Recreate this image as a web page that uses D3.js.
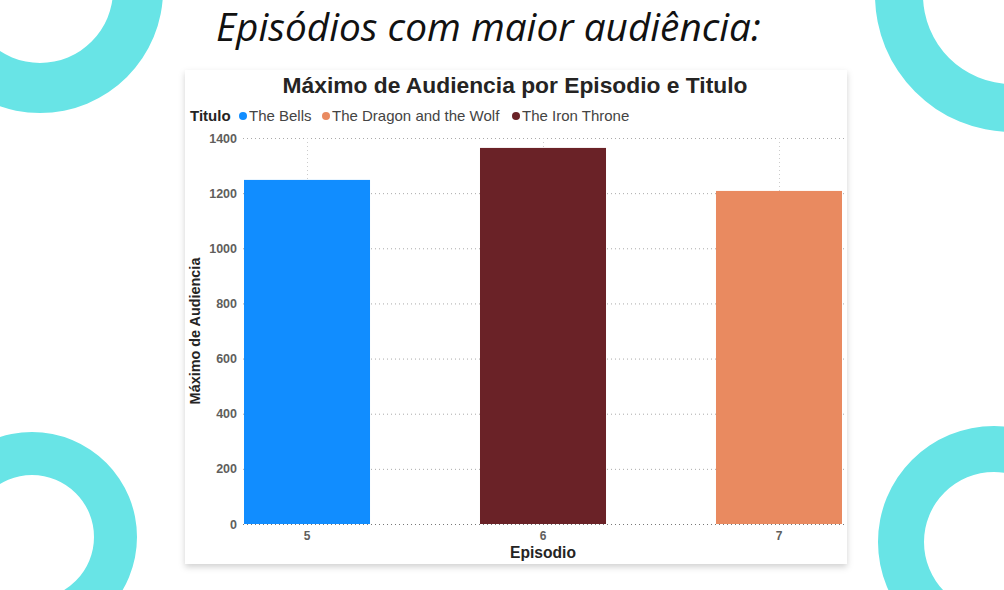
<!DOCTYPE html>
<html>
<head>
<meta charset="utf-8">
<script src="https://cdn.jsdelivr.net/npm/d3@7"></script>
<style>
  html, body { margin: 0; padding: 0; background: #fff; }
  svg { display: block; }
</style>
</head>
<body>
<svg id="chart" width="1004" height="590"></svg>
<script>
// ---- Data ----
const episodes = ["5", "6", "7"];
const titles = ["The Bells", "The Iron Throne", "The Dragon and the Wolf"];
const audience = [1248, 1364, 1208];
const legendTitles = ["The Bells", "The Dragon and the Wolf", "The Iron Throne"];
const yTicks = [0, 200, 400, 600, 800, 1000, 1200, 1400];
const colorMap = { "The Bells": "#118DFF", "The Dragon and the Wolf": "#E98A60", "The Iron Throne": "#6A2227" };

const svg = d3.select("#chart");

// ---- decorative rings ----
const ringColor = "#68E4E6";
const rings = [
  { cx: 40, cy: -10, R: 123, r: 73 },
  { cx: 1012, cy: -5, R: 137, r: 89 },
  { cx: 32, cy: 537, R: 105, r: 62 },
  { cx: 994, cy: 542, R: 116, r: 70 }
];
const arcGen = d3.arc();
rings.forEach(g => {
  svg.append("path")
    .attr("transform", `translate(${g.cx},${g.cy})`)
    .attr("d", arcGen({ innerRadius: g.r, outerRadius: g.R, startAngle: 0, endAngle: 2 * Math.PI }))
    .attr("fill", ringColor);
});

// ---- page heading ----
function fit(sel, w) {
  const l = sel.node().getComputedTextLength();
  const fs = parseFloat(sel.attr("font-size"));
  sel.attr("font-size", fs * w / l);
}
const heading = svg.append("text")
  .attr("x", 216).attr("y", 41)
  .attr("font-family", "'Open Sans', 'Noto Sans', sans-serif")
  .attr("font-style", "italic")
  .attr("font-size", 32)
  .attr("fill", "#111")
  .text("Episódios com maior audiência:");
fit(heading, 545);

// ---- card ----
const defs = svg.append("defs");
const f = defs.append("filter").attr("id", "shadow").attr("x", "-5%").attr("y", "-5%").attr("width", "110%").attr("height", "112%");
f.append("feDropShadow").attr("dx", 0).attr("dy", 3).attr("stdDeviation", 3).attr("flood-color", "#000").attr("flood-opacity", 0.18);
svg.append("rect")
  .attr("x", 185).attr("y", 70).attr("width", 662).attr("height", 494)
  .attr("fill", "#fff").attr("filter", "url(#shadow)");

// ---- chart title ----
const ct = svg.append("text")
  .attr("x", 515).attr("y", 93)
  .attr("text-anchor", "middle")
  .attr("font-family", "'Liberation Sans', Arial, sans-serif")
  .attr("font-weight", "bold")
  .attr("font-size", 20)
  .attr("fill", "#252423")
  .text("Máximo de Audiencia por Episodio e Titulo");
fit(ct, 465);

// ---- legend ----
const lg = svg.append("g").attr("font-family", "'Liberation Sans', Arial, sans-serif").attr("font-size", 15);
const lt = lg.append("text").attr("x", 190).attr("y", 121).attr("font-weight", "bold").attr("fill", "#252423").text("Titulo");
fit(lt, 41);
const legendX = [243, 326, 516];
const legendW = [64, 178, 110];
legendTitles.forEach((t, i) => {
  lg.append("circle").attr("cx", legendX[i]).attr("cy", 116).attr("r", 4).attr("fill", colorMap[t]);
  const tt = lg.append("text").attr("x", legendX[i] + 6).attr("y", 121).attr("fill", "#444").text(t);
  fit(tt, legendW[i]);
});

// ---- scales ----
const x = d3.scaleBand().domain(episodes).range([244, 842]).paddingInner(0.466).paddingOuter(0);
const y = d3.scaleLinear().domain([0, 1400]).range([524, 138]);

// gridlines
const grid = svg.append("g");
grid.selectAll("line.h").data(yTicks).join("line")
  .attr("x1", 243).attr("x2", 845)
  .attr("y1", d => y(d) + 0.5).attr("y2", d => y(d) + 0.5)
  .attr("stroke", d => d === 0 ? "#777" : "#aaa")
  .attr("stroke-width", 1)
  .attr("stroke-dasharray", "1,3");
grid.selectAll("line.v").data(episodes).join("line")
  .attr("x1", d => x(d) + x.bandwidth() / 2 + 0.5).attr("x2", d => x(d) + x.bandwidth() / 2 + 0.5)
  .attr("y1", 138).attr("y2", 524)
  .attr("stroke", "#ccc")
  .attr("stroke-dasharray", "1,3");

// bars
svg.append("g").selectAll("rect").data(episodes).join("rect")
  .attr("x", d => x(d))
  .attr("width", x.bandwidth())
  .attr("y", (d, i) => y(audience[i]))
  .attr("height", (d, i) => y(0) - y(audience[i]))
  .attr("fill", (d, i) => colorMap[titles[i]]);

// y axis
const yAxis = svg.append("g")
  .attr("transform", "translate(237,0)")
  .call(d3.axisLeft(y).tickValues(yTicks).tickSize(0).tickPadding(0).tickFormat(d3.format("d")));
yAxis.select(".domain").remove();
yAxis.selectAll("text")
  .attr("font-family", "'Liberation Sans', Arial, sans-serif")
  .attr("font-size", 12.5).attr("font-weight", "bold").attr("fill", "#605E5C");

// x axis
const xAxis = svg.append("g")
  .attr("transform", "translate(0,524)")
  .call(d3.axisBottom(x).tickSize(0).tickPadding(7));
xAxis.select(".domain").remove();
xAxis.selectAll("text")
  .attr("font-family", "'Liberation Sans', Arial, sans-serif")
  .attr("font-size", 12).attr("font-weight", "bold").attr("fill", "#605E5C");

// axis titles
const xt = svg.append("text")
  .attr("x", 543).attr("y", 558)
  .attr("text-anchor", "middle")
  .attr("font-family", "'Liberation Sans', Arial, sans-serif")
  .attr("font-weight", "bold").attr("font-size", 15).attr("fill", "#252423")
  .text("Episodio");
fit(xt, 66);
const yt = svg.append("text")
  .attr("transform", "translate(200,331) rotate(-90)")
  .attr("text-anchor", "middle")
  .attr("font-family", "'Liberation Sans', Arial, sans-serif")
  .attr("font-weight", "bold").attr("font-size", 14).attr("fill", "#252423")
  .text("Máximo de Audiencia");
fit(yt, 147);
</script>
</body>
</html>
